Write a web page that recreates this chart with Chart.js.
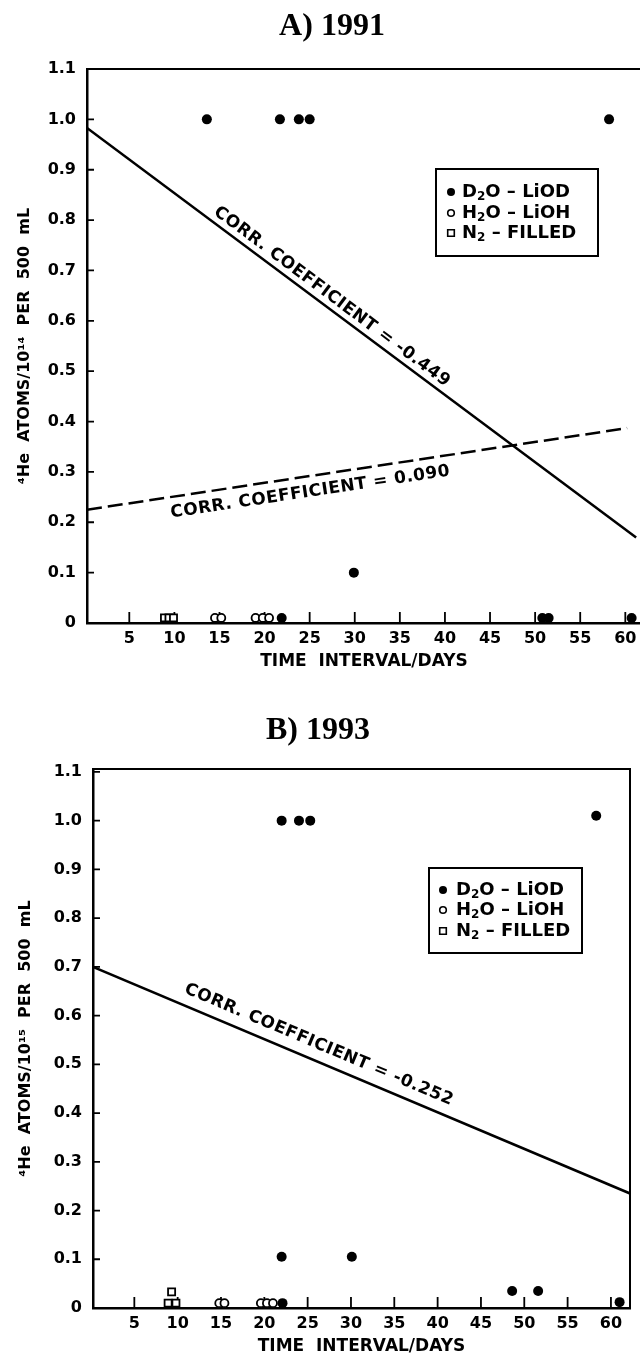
<!DOCTYPE html>
<html>
<head>
<style>
  html, body { margin: 0; padding: 0; background: #fff; overflow: hidden; }
  .panel { position: absolute; left: 0; }
</style>
</head>
<body>
<div class="panel" style="top:0;width:648px;height:680px;"><canvas id="chartA"></canvas></div>
<div class="panel" style="top:680px;width:640px;height:690px;"><canvas id="chartB"></canvas></div>
<script src="https://cdn.jsdelivr.net/npm/chart.js"></script>
<script>
// ---- shared axis ticks / legend names ----
const xTickValues = [5, 10, 15, 20, 25, 30, 35, 40, 45, 50, 55, 60];
const yTickValues = [0, 0.1, 0.2, 0.3, 0.4, 0.5, 0.6, 0.7, 0.8, 0.9, 1.0, 1.1];
const yTickLabels = ['0', '0.1', '0.2', '0.3', '0.4', '0.5', '0.6', '0.7', '0.8', '0.9', '1.0', '1.1'];
const seriesNames = ['D_2O \u2013 LiOD', 'H_2O \u2013 LiOH', 'N_2 \u2013 FILLED'];

// ---- A) 1991 ----
const d2oDaysA = [13.6, 21.7, 23.8, 25.0, 58.2, 29.9, 21.9, 50.8, 51.5, 60.7];
const d2oHeA   = [1.0, 1.0, 1.0, 1.0, 1.0, 0.1, 0.01, 0.01, 0.01, 0.01];
const h2oDaysA = [14.5, 15.2, 19.0, 19.8, 20.5];
const h2oHeA   = [0.01, 0.01, 0.01, 0.01, 0.01];
const n2DaysA  = [8.9, 9.4, 9.9];
const n2HeA    = [0.01, 0.01, 0.01];
const fitSolidDaysA = [0.31, 61.2];
const fitSolidHeA   = [0.983, 0.17];
const fitDashDaysA  = [0.31, 60.2];
const fitDashHeA    = [0.225, 0.387];

// ---- B) 1993 ----
const d2oDaysB = [22.0, 24.0, 25.3, 58.3, 22.0, 30.1, 48.6, 51.6, 22.1, 61.0];
const d2oHeB   = [1.0, 1.0, 1.0, 1.01, 0.105, 0.105, 0.035, 0.035, 0.01, 0.012];
const h2oDaysB = [14.8, 15.4, 19.6, 20.3, 21.0];
const h2oHeB   = [0.01, 0.01, 0.01, 0.01, 0.01];
const n2DaysB  = [8.9, 9.8, 9.3];
const n2HeB    = [0.01, 0.01, 0.033];
const fitSolidDaysB = [0.23, 62.2];
const fitSolidHeB   = [0.70, 0.235];

const FONT = '"DejaVu Sans", "Liberation Sans", sans-serif';
const SERIF = '"Liberation Serif", "Times New Roman", serif';

function pts(xs, ys) {
    return xs.map((x, i) => ({ x: x, y: ys[i] }));
}

function markerSets(d2oX, d2oY, h2oX, h2oY, n2X, n2Y) {
    return [
        { label: seriesNames[0], data: pts(d2oX, d2oY), pointStyle: 'circle', pointRadius: 5,
          pointBackgroundColor: '#000', pointBorderColor: '#000', pointBorderWidth: 0, clip: false },
        { label: seriesNames[1], data: pts(h2oX, h2oY), pointStyle: 'circle', pointRadius: 4,
          pointBackgroundColor: '#fff', pointBorderColor: '#000', pointBorderWidth: 1.8, clip: false },
        { label: seriesNames[2], data: pts(n2X, n2Y), pointStyle: 'rect', pointRadius: 5,
          pointBackgroundColor: '#fff', pointBorderColor: '#000', pointBorderWidth: 1.8, clip: false }
    ];
}

function fitSet(xs, ys, dash) {
    return { data: pts(xs, ys), showLine: true, pointRadius: 0, borderColor: '#000',
             borderWidth: 2.5, borderDash: dash, fill: false };
}

// plot box (top + right) and the inward tick marks
const framePlugin = {
    id: 'frame',
    beforeDatasetsDraw(chart) {
        const ctx = chart.ctx, a = chart.chartArea, x = chart.scales.x, y = chart.scales.y;
        ctx.save();
        ctx.strokeStyle = '#000';
        ctx.lineWidth = 2;
        ctx.beginPath();
        ctx.moveTo(a.left, a.top);
        ctx.lineTo(a.right, a.top);
        ctx.lineTo(a.right, a.bottom);
        ctx.stroke();
        ctx.lineWidth = 1.8;
        ctx.beginPath();
        x.ticks.forEach(t => {
            const px = x.getPixelForValue(t.value);
            ctx.moveTo(px, a.bottom);
            ctx.lineTo(px, a.bottom - 11);
        });
        y.ticks.forEach(t => {
            if (t.value <= 0) return;
            const py = y.getPixelForValue(t.value);
            ctx.moveTo(a.left, py);
            ctx.lineTo(a.left + 7, py);
        });
        ctx.stroke();
        ctx.restore();
    }
};

// panel heading, placed like the scanned page (not centred on the canvas)
function headingPlugin(text, cx, cy) {
    return {
        id: 'heading',
        afterDraw(chart) {
            const ctx = chart.ctx;
            ctx.save();
            ctx.font = 'bold 32px ' + SERIF;
            ctx.fillStyle = '#000';
            ctx.textAlign = 'center';
            ctx.textBaseline = 'middle';
            ctx.fillText(text, cx, cy);
            ctx.restore();
        }
    };
}

// rotated labels along the fitted lines
function notesPlugin(items) {
    return {
        id: 'slopeNotes',
        afterDatasetsDraw(chart) {
            const ctx = chart.ctx, x = chart.scales.x, y = chart.scales.y;
            items.forEach(n => {
                const x0 = x.getPixelForValue(n.xs[0]), y0 = y.getPixelForValue(n.ys[0]);
                const x1 = x.getPixelForValue(n.xs[1]), y1 = y.getPixelForValue(n.ys[1]);
                const ang = Math.atan2(y1 - y0, x1 - x0);
                const cx = x0 + (x1 - x0) * n.at + Math.sin(ang) * n.offset;
                const cy = y0 + (y1 - y0) * n.at - Math.cos(ang) * n.offset;
                ctx.save();
                ctx.translate(cx, cy);
                ctx.rotate(ang);
                ctx.font = 'bold 17px ' + FONT;
                ctx.letterSpacing = '0.5px';
                ctx.textAlign = 'center';
                ctx.textBaseline = 'middle';
                ctx.fillStyle = '#000';
                ctx.fillText(n.text, 0, 0);
                ctx.restore();
            });
        }
    };
}

// text with "_2" style subscripts
function drawSub(ctx, text, x, y) {
    const parts = text.split(/_(.)/);
    ctx.textBaseline = 'middle';
    ctx.textAlign = 'left';
    parts.forEach((p, i) => {
        if (i % 2 === 1) {
            ctx.font = 'bold 12px ' + FONT;
            ctx.fillText(p, x, y + 5);
        } else {
            ctx.font = 'bold 18px ' + FONT;
            ctx.fillText(p, x, y);
        }
        x += ctx.measureText(p).width;
    });
}

function legendPlugin(box) {
    return {
        id: 'boxLegend',
        afterDraw(chart) {
            const ctx = chart.ctx;
            ctx.save();
            ctx.fillStyle = '#fff';
            ctx.fillRect(box.x, box.y, box.w, box.h);
            ctx.strokeStyle = '#000';
            ctx.lineWidth = 2;
            ctx.strokeRect(box.x, box.y, box.w, box.h);
            chart.data.datasets.slice(0, 3).forEach((ds, i) => {
                const cy = box.rows[i];
                ctx.fillStyle = '#000';
                ctx.lineWidth = 1.6;
                ctx.beginPath();
                if (i === 0) {
                    ctx.arc(box.mx, cy, 4, 0, Math.PI * 2);
                    ctx.fill();
                } else if (i === 1) {
                    ctx.arc(box.mx, cy, 3.3, 0, Math.PI * 2);
                    ctx.stroke();
                } else {
                    ctx.rect(box.mx - 3.3, cy - 3.3, 6.6, 6.6);
                    ctx.stroke();
                }
                ctx.fillStyle = '#000';
                drawSub(ctx, ds.label, box.tx, cy);
            });
            ctx.restore();
        }
    };
}

function buildChart(id, p) {
    return new Chart(document.getElementById(id), {
        type: 'scatter',
        data: { datasets: p.datasets },
        options: {
            responsive: true,
            maintainAspectRatio: false,
            animation: false,
            events: [],
            layout: { padding: { left: 0, right: p.padRight, top: p.padTop, bottom: 0 } },
            plugins: {
                legend: { display: false },
                tooltip: { enabled: false },
                title: { display: false }
            },
            scales: {
                x: {
                    type: 'linear', min: p.xMin, max: p.xMax,
                    afterBuildTicks: s => { s.ticks = xTickValues.map(v => ({ value: v })); },
                    afterFit: s => { s.height = p.xAxisHeight; s.paddingLeft = 0; s.paddingRight = 0; },
                    grid: { display: false, drawTicks: false },
                    border: { display: true, color: '#000', width: 2.5 },
                    ticks: {
                        color: '#000', padding: 6, autoSkip: false, maxRotation: 0,
                        font: { family: FONT, size: 16, weight: 'bold' },
                        callback: v => String(v)
                    },
                    title: {
                        display: true, text: 'TIME  INTERVAL/DAYS', color: '#000',
                        font: { family: FONT, size: 17, weight: 'bold', lineHeight: 1.2 },
                        padding: { top: 0, bottom: p.xTitlePad }
                    }
                },
                y: {
                    type: 'linear', min: 0, max: p.yMax,
                    afterBuildTicks: s => { s.ticks = yTickValues.map(v => ({ value: v })); },
                    afterFit: s => { s.width = p.yAxisWidth; s.paddingTop = 0; s.paddingBottom = 0; },
                    grid: { display: false, drawTicks: false },
                    border: { display: true, color: '#000', width: 2.5 },
                    ticks: {
                        color: '#000', padding: 11,
                        font: { family: FONT, size: 16, weight: 'bold' },
                        callback: (v, i) => yTickLabels[i]
                    },
                    title: {
                        display: true, text: p.yTitle, color: '#000',
                        font: { family: FONT, size: 16, weight: 'bold', lineHeight: 1.2 },
                        padding: { top: p.yTitlePad, bottom: 0 }
                    }
                }
            }
        },
        plugins: [framePlugin, notesPlugin(p.notes), legendPlugin(p.legend),
                  headingPlugin(p.title, p.titleX, p.titleY)]
    });
}

// panel A canvas is a little wider than the window: its plot box runs off the right edge
buildChart('chartA', {
    title: 'A) 1991', titleX: 332, titleY: 26.5,
    padTop: 69, padRight: 7,
    xMin: 0.31, xMax: 61.74, yMax: 1.1,
    xAxisHeight: 57, yAxisWidth: 87,
    xTitlePad: 7.8, yTitlePad: 15,
    yTitle: '\u2074He  ATOMS/10\u00b9\u2074  PER  500  mL',
    datasets: markerSets(d2oDaysA, d2oHeA, h2oDaysA, h2oHeA, n2DaysA, n2HeA).concat([
        fitSet(fitSolidDaysA, fitSolidHeA, []),
        fitSet(fitDashDaysA, fitDashHeA, [15, 6])
    ]),
    notes: [
        { text: 'CORR. COEFFICIENT = -0.449', xs: fitSolidDaysA, ys: fitSolidHeA, at: 0.434, offset: 11 },
        { text: 'CORR. COEFFICIENT = 0.090', xs: fitDashDaysA, ys: fitDashHeA, at: 0.409, offset: -16 }
    ],
    legend: { x: 436, y: 169, w: 162, h: 87, mx: 451, tx: 462, rows: [192, 213, 233] }
});

buildChart('chartB', {
    title: 'B) 1993', titleX: 318, titleY: 51,
    padTop: 89, padRight: 10,
    xMin: 0.23, xMax: 62.2, yMax: 1.106,
    xAxisHeight: 62, yAxisWidth: 93,
    xTitlePad: 12.8, yTitlePad: 16.5,
    yTitle: '\u2074He  ATOMS/10\u00b9\u2075  PER  500  mL',
    datasets: markerSets(d2oDaysB, d2oHeB, h2oDaysB, h2oHeB, n2DaysB, n2HeB).concat([
        fitSet(fitSolidDaysB, fitSolidHeB, [])
    ]),
    notes: [
        { text: 'CORR. COEFFICIENT = -0.252', xs: fitSolidDaysB, ys: fitSolidHeB, at: 0.409, offset: 16 }
    ],
    legend: { x: 429, y: 188, w: 153, h: 85, mx: 443, tx: 456, rows: [210, 230, 251] }
});
</script>
</body>
</html>
